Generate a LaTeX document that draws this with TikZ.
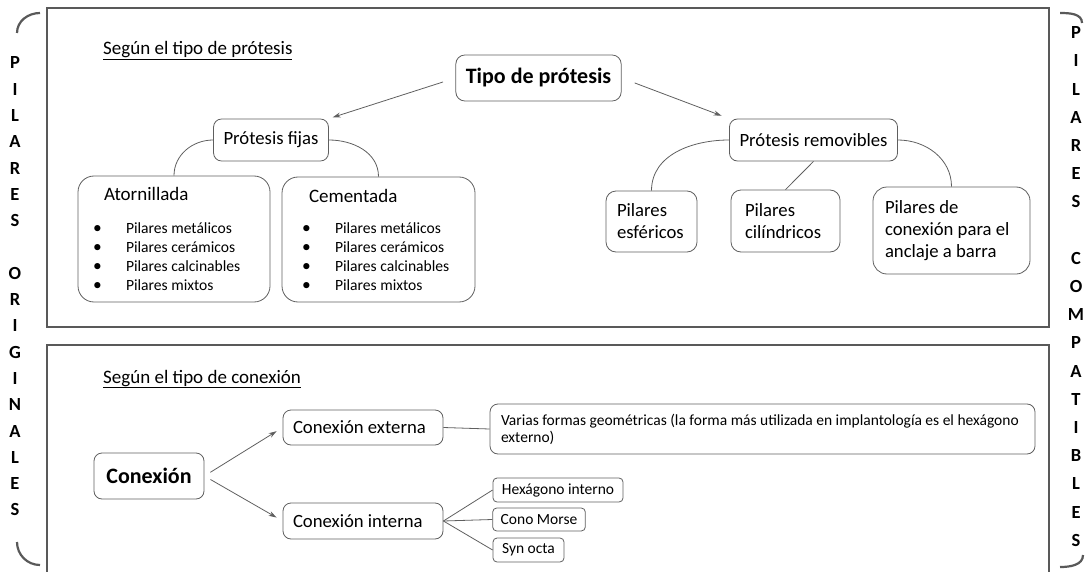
\documentclass[tikz,border=0pt]{standalone}
\usepackage{fontspec}
\setmainfont{Carlito}
\usetikzlibrary{arrows.meta}

\definecolor{linegray}{HTML}{5F5F5F}
\definecolor{framegray}{HTML}{595959}
\newcommand{\blt}{\hspace*{5pt}\makebox[33pt][l]{\fontsize{17.5}{19}\selectfont\textbullet}}
\hyphenpenalty=10000
\exhyphenpenalty=10000

\tikzset{
  box/.style={draw=linegray, line width=0.8pt, rounded corners=8pt, inner xsep=10pt, inner ysep=0pt,
    align=left, font=\fontsize{18.7}{22}\selectfont,
    execute at begin node={\spaceskip=0pt\xspaceskip=0pt}},
  smallbox/.style={box, rounded corners=4pt, inner xsep=8pt, align=center, font=\fontsize{15.5}{17}\selectfont},
  listbox/.style={box, rounded corners=16pt, font=\fontsize{15.6}{19}\selectfont},
  arr/.style={draw=linegray, line width=0.8pt, -{Stealth[length=8pt,width=5pt]}},
  conn/.style={draw=linegray, line width=0.8pt},
  frame/.style={draw=framegray, line width=1.6pt},
  bracket/.style={draw=framegray, line width=2.2pt},
  sidetext/.style={align=center, inner sep=0pt, font=\bfseries\fontsize{18.5}{26.3}\selectfont},
}

\begin{document}
\begin{tikzpicture}[x=1pt,y=1pt]
  \useasboundingbox (0,0) rectangle (1091,-572);

  % frames
  \draw[frame] (47,-8) rectangle (1049,-327);
  \draw[frame] (47,-572) -- (47,-345) -- (1049,-345) -- (1049,-572);

  % side brackets
  \draw[bracket] (17,-33) to[out=90,in=180] (40,-13);
  \draw[bracket] (17,-542) to[out=-90,in=180] (40,-565);
  \draw[bracket] (1060,-13) to[out=0,in=90] (1082,-23);
  \draw[bracket] (1083,-555) to[out=-90,in=0] (1060,-567);

  \node[sidetext] (orig) at (15,-286.5) {P\\I\\L\\A\\R\\E\\S\\ \\O\\R\\I\\G\\I\\N\\A\\L\\E\\S};
  \node[sidetext, font=\bfseries\fontsize{18.5}{28.2}\selectfont] (compat) at (1076,-286.5)
    {P\\I\\L\\A\\R\\E\\S\\ \\C\\O\\M\\P\\A\\T\\I\\B\\L\\E\\S};

  % tipo de protesis
  \node[anchor=base west, inner sep=0pt, font=\fontsize{19}{22}\selectfont] (tit1) at (103,-55)
    {\underline{Según el tipo de prótesis}};
  \node[box, rounded corners=9pt, minimum width=161pt, minimum height=46pt, align=center,
    font=\bfseries\fontsize{22}{24}\selectfont] (tipo) at (538.5,-78) {Tipo de prótesis};
  \node[box, minimum width=110pt, minimum height=42pt, align=center] (pfijas) at (271,-140) {Prótesis fijas};
  \node[box, minimum width=165pt, minimum height=42pt, align=center] (prem) at (813.5,-140) {Prótesis removibles};

  \node[listbox, text width=172pt, minimum height=126pt] (atorn) at (174,-239)
    {\hspace*{16pt}{\fontsize{19}{19}\selectfont Atornillada}\\[14pt]
     \blt Pilares metálicos\\ \blt Pilares cerámicos\\ \blt Pilares calcinables\\ \blt Pilares mixtos};
  \node[listbox, inner xsep=15pt, text width=163pt, minimum height=125pt] (cement) at (378.5,-239.5)
    {\hspace*{12pt}{\fontsize{19}{19}\selectfont Cementada}\\[12pt]
     \blt Pilares metálicos\\ \blt Pilares cerámicos\\ \blt Pilares calcinables\\ \blt Pilares mixtos};

  \node[box, rounded corners=10pt, inner xsep=11pt, text width=69pt, minimum height=61pt] (pesf) at (651.5,-221.5) {Pilares\\esféricos};
  \node[box, rounded corners=10pt, inner xsep=14pt, text width=81pt, minimum height=62pt] (pcil) at (785.5,-221) {Pilares\\cilíndricos};
  \node[box, rounded corners=14pt, inner xsep=12pt, text width=133pt, minimum height=87pt] (pbar) at (951.5,-230.5)
    {Pilares de\\conexión para el\\anclaje a barra};

  \draw[arr, shorten <=13pt, shorten >=4pt] (tipo.west) -- (pfijas.north east);
  \draw[arr, shorten <=14pt, shorten >=8pt] (tipo.east) -- (prem.north west);
  \draw[conn] (pfijas.west) to[out=180,in=90] (atorn.north);
  \draw[conn] (pfijas.east) to[out=0,in=90] (cement.north);
  \draw[conn] (prem.west) to[out=180,in=90] (pesf.north);
  \draw[conn] (prem.south) -- (pcil.north);
  \draw[conn] (prem.east) to[out=0,in=90] (pbar.north);

  % tipo de conexion
  \node[anchor=base west, inner sep=0pt, font=\fontsize{19}{22}\selectfont] (tit2) at (103,-383)
    {\underline{Según el tipo de conexión}};
  \node[box, minimum width=110pt, minimum height=46pt, align=center,
    font=\bfseries\fontsize{22}{24}\selectfont] (conex) at (149,-476) {Conexión};
  \node[box, text width=140pt, minimum height=35pt] (cext) at (363,-427.5) {Conexión externa};
  \node[box, text width=140pt, minimum height=36pt] (cint) at (363,-521) {Conexión interna};
  \node[smallbox, rounded corners=8pt, inner xsep=11pt, text width=523pt, minimum height=50pt, align=left,
    font=\fontsize{15.5}{17}\selectfont] (varias) at (762.5,-429)
    {Varias formas geométricas (la forma más utilizada en implantología es el hexágono\\externo)};
  \node[smallbox, minimum width=130pt, minimum height=24pt] (hex) at (558,-490) {Hexágono interno};
  \node[smallbox, minimum width=92pt, minimum height=23pt] (cono) at (539,-519.5) {Cono Morse};
  \node[smallbox, minimum width=71pt, minimum height=24pt] (syn) at (528.5,-550) {Syn octa};

  \draw[arr, shorten <=7pt, shorten >=7pt] (conex.east) -- (cext.west);
  \draw[arr, shorten <=7pt, shorten >=7pt] (conex.east) -- (cint.west);
  \draw[conn] (cext.east) -- (varias.west);
  \draw[conn] (cint.east) -- (hex.west);
  \draw[conn] (cint.east) -- (cono.west);
  \draw[conn] (cint.east) -- (syn.west);
\end{tikzpicture}
\end{document}
